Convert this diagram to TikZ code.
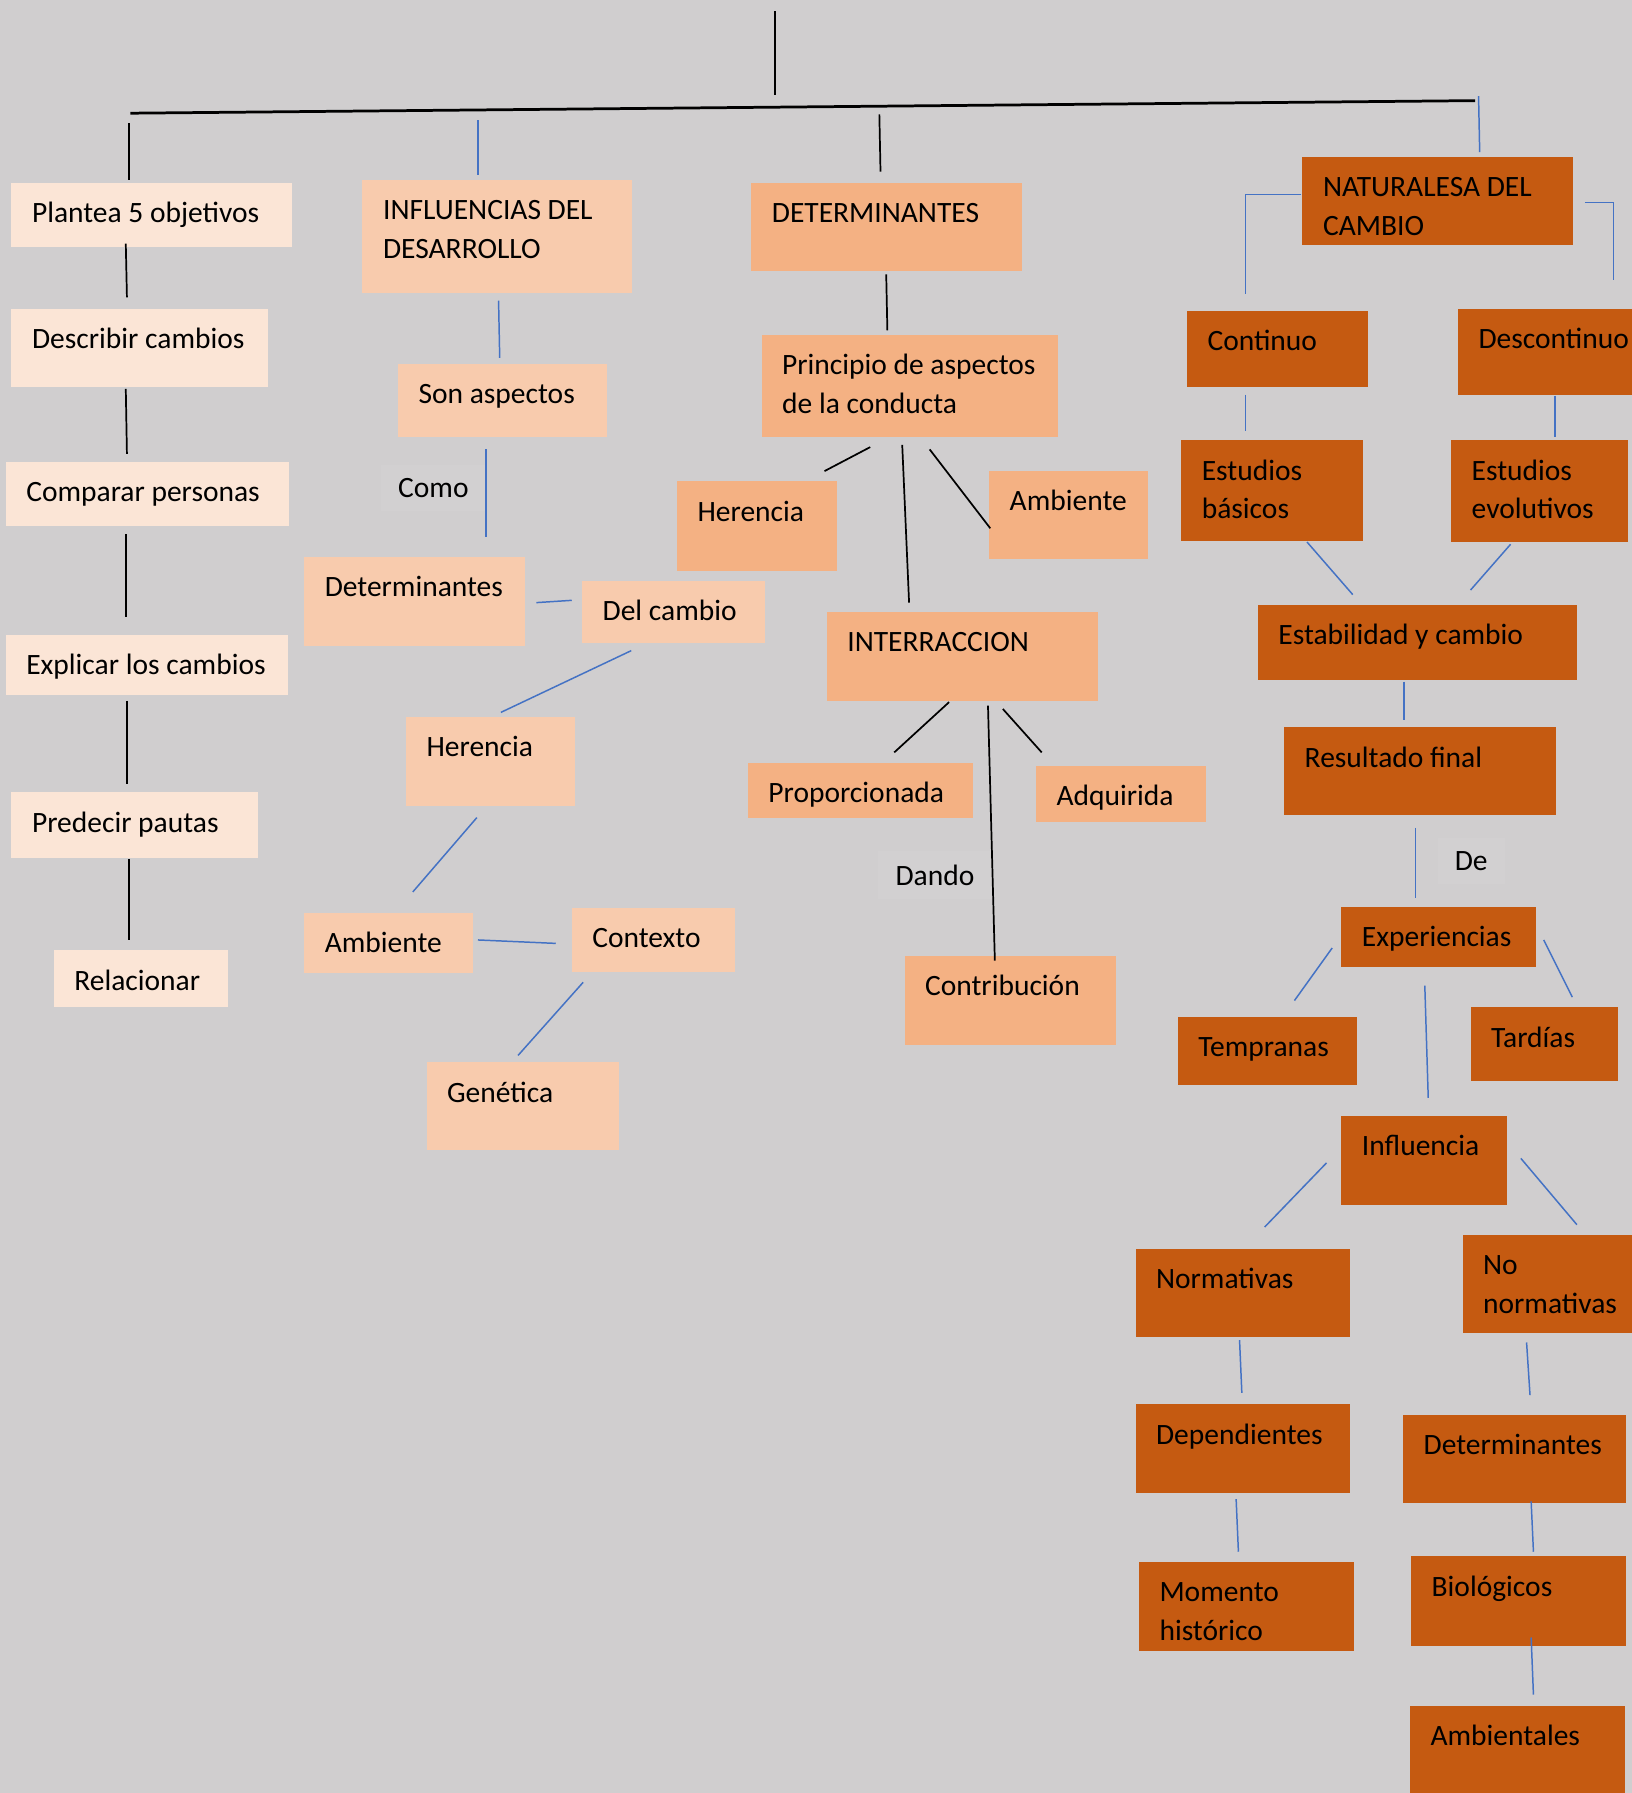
\documentclass[tikz,border=0pt]{standalone}
\usepackage{fontspec}
\setmainfont{Carlito}
\definecolor{fondo}{HTML}{D0CECF}
\definecolor{velo}{HTML}{D2D0D1}
\definecolor{claro}{HTML}{FBE5D6}
\definecolor{durazno}{HTML}{F8CBAD}
\definecolor{salmon}{HTML}{F4B183}
\definecolor{oxido}{HTML}{C55A11}
\definecolor{azul}{HTML}{4472C4}
% texto arriba a la izquierda dentro de cada caja (ancho, alto, texto)
\newcommand{\caja}[3]{\parbox[t][#2pt][t]{#1pt}{\raggedright\leftskip=18pt\relax\vspace*{11pt}\strut #3}}
\tikzset{
    caja/.style ={anchor=north west, inner sep=0pt, outer sep=0pt, font=\fontsize{25.8}{34}\selectfont},
    nivel1/.style ={caja, fill=claro},
    nivel2/.style ={caja, fill=durazno},
    nivel3/.style ={caja, fill=salmon},
    nivel4/.style ={caja, fill=oxido},
    etiqueta/.style ={anchor=base west, fill=velo, inner xsep=15pt, inner ysep=12pt, font=\fontsize{25.8}{34}\selectfont},
    negra/.style ={draw=black, line width=1.5pt},
    azulada/.style ={draw=azul, line width=1.3pt}
}

\begin{document}
\begin{tikzpicture}[x=1pt, y=-1pt]
    \useasboundingbox (0,0) rectangle (1427,1568);
    \fill[fondo] (0,0) rectangle (1427,1568);

    \coordinate (cima) at (678,10);
    \coordinate (cimaB) at (678,83);
    \coordinate (barraI) at (114,99);
    \coordinate (barraD) at (1290,88);
    \coordinate (b1) at (113,108);
    \coordinate (b2) at (418,105);
    \coordinate (b3) at (769,100);
    \coordinate (b4) at (1293,84);

    % columna 1
    \node[nivel1] (plantea) at (10,160) {\caja{245}{56}{Plantea 5 objetivos}};
    \node[nivel1] (describir) at (10,270) {\caja{224}{68}{Describir cambios}};
    \node[nivel1] (comparar) at (5,404) {\caja{248}{56}{Comparar personas}};
    \node[nivel1] (explicar) at (5,555) {\caja{247}{53}{Explicar los cambios}};
    \node[nivel1] (predecir) at (10,693) {\caja{216}{57}{Predecir pautas}};
    \node[nivel1] (relacionar) at (47,831) {\caja{152}{50}{Relacionar}};

    % columna 2
    \node[nivel2] (influencias) at (317,157) {\caja{236}{99}{INFLUENCIAS DEL\\DESARROLLO}};
    \node[nivel2] (aspectos) at (348,318) {\caja{183}{64}{Son aspectos}};
    \node[etiqueta] (como) at (333,435) {Como};
    \node[nivel2] (detCambio) at (266,487) {\caja{193}{78}{Determinantes}};
    \node[nivel2] (delcambio) at (509,508) {\caja{160}{54}{Del cambio}};
    \node[nivel2] (herencia) at (355,627) {\caja{148}{78}{Herencia}};
    \node[nivel2] (ambiente) at (266,798) {\caja{148}{53}{Ambiente}};
    \node[nivel2] (contexto) at (500,794) {\caja{143}{56}{Contexto}};
    \node[nivel2] (genetica) at (373,929) {\caja{168}{77}{Genética}};

    % columna 3
    \node[nivel3] (det) at (657,160) {\caja{237}{77}{DETERMINANTES}};
    \node[nivel3] (principio) at (666,293) {\caja{259}{89}{Principio de aspectos\\de la conducta}};
    \node[nivel3] (herenciaP) at (592,421) {\caja{140}{78}{Herencia}};
    \node[nivel3] (ambienteP) at (865,412) {\caja{139}{77}{Ambiente}};
    \node[nivel3] (interaccion) at (723,535) {\caja{237}{78}{INTERRACCION}};
    \node[nivel3] (proporcionada) at (654,667) {\caja{197}{48}{Proporcionada}};
    \node[nivel3] (adquirida) at (906,670) {\caja{149}{49}{Adquirida}};
    \node[etiqueta] (dando) at (768,774) {Dando};
    \node[nivel3] (contribucion) at (791,836) {\caja{185}{78}{Contribución}};

    % columna 4
    \node[nivel4] (naturaleza) at (1139,137) {\caja{237}{77}{NATURALESA DEL\\CAMBIO}};
    \node[nivel4] (continuo) at (1038,272) {\caja{158}{66}{Continuo}};
    \node[nivel4] (descontinuo) at (1275,270) {\caja{170}{75}{Descontinuo}};
    \node[nivel4] (basicos) at (1033,385) {\caja{159}{88}{Estudios\\básicos}};
    \node[nivel4] (evolutivos) at (1269,385) {\caja{155}{89}{Estudios\\evolutivos}};
    \node[nivel4] (estabilidad) at (1100,529) {\caja{279}{66}{Estabilidad y cambio}};
    \node[nivel4] (resultado) at (1123,636) {\caja{238}{77}{Resultado final}};
    \node[etiqueta] (de) at (1257,761) {De};
    \node[nivel4] (experiencias) at (1173,793) {\caja{170}{53}{Experiencias}};
    \node[nivel4] (tempranas) at (1030,889) {\caja{157}{60}{Tempranas}};
    \node[nivel4] (tardias) at (1286,881) {\caja{129}{64}{Tardías}};
    \node[nivel4] (influencia) at (1173,976) {\caja{145}{78}{Influencia}};
    \node[nivel4] (normativas) at (993,1092) {\caja{188}{77}{Normativas}};
    \node[nivel4] (noNormativas) at (1279,1080) {\caja{150}{86}{No\\normativas}};
    \node[nivel4] (dependientes) at (993,1228) {\caja{188}{78}{Dependientes}};
    \node[nivel4] (detNo) at (1227,1237) {\caja{195}{77}{Determinantes}};
    \node[nivel4] (momento) at (996,1366) {\caja{188}{78}{Momento\\histórico}};
    \node[nivel4] (biologicos) at (1234,1361) {\caja{188}{78}{Biológicos}};
    \node[nivel4] (ambientales) at (1233,1492) {\caja{188}{90}{Ambientales}};

    % tronco
    \draw[negra] (cima) -- (cimaB);
    \draw[negra, line width=2.4pt] (barraI) -- (barraD);

    \draw[negra] (b1) -- ([xshift=-19.5pt,yshift=3pt]plantea.north);
    \draw[negra] ([xshift=-22.5pt,yshift=3pt]plantea.south) -- ([xshift=-11pt,yshift=10pt]describir.north);
    \draw[negra] ([xshift=-12pt,yshift=-2pt]describir.south) -- ([xshift=-18pt,yshift=7pt]comparar.north);
    \draw[negra] ([xshift=-19pt,yshift=-7pt]comparar.south) -- ([xshift=-18.5pt,yshift=15pt]explicar.north);
    \draw[negra] ([xshift=-17.5pt,yshift=-5pt]explicar.south) -- ([xshift=-7pt,yshift=7pt]predecir.north);
    \draw[negra] ([xshift=-5pt,yshift=-1pt]predecir.south) -- ([xshift=-10pt,yshift=9pt]relacionar.north);

    \draw[azulada] (b2) -- ([xshift=-17pt,yshift=4pt]influencias.north);
    \draw[azulada] ([xshift=1pt,yshift=-7pt]influencias.south) -- ([xshift=-2.5pt,yshift=5pt]aspectos.north);
    \draw[azulada] ([xshift=-14.5pt,yshift=-11pt]aspectos.south) -- ([xshift=62.5pt,yshift=17pt]detCambio.north);
    \draw[azulada] ([xshift=10pt,yshift=-1pt]detCambio.east) -- ([xshift=-9pt,yshift=10pt]delcambio.west);
    \draw[azulada] ([xshift=-37pt,yshift=-7pt]delcambio.south) -- ([xshift=9pt,yshift=4pt]herencia.north);
    \draw[azulada] ([xshift=-12pt,yshift=-10pt]herencia.south) -- ([xshift=21pt,yshift=18pt]ambiente.north);
    \draw[azulada] ([xshift=4pt,yshift=2.5pt]ambiente.east) -- ([xshift=-14pt,yshift=-3pt]contexto.west);
    \draw[azulada] ([xshift=-61.5pt,yshift=-9pt]contexto.south) -- ([xshift=-4pt,yshift=6pt]genetica.north);

    \draw[negra] (b3) -- ([xshift=-5.5pt,yshift=10pt]det.north);
    \draw[negra] ([xshift=-0.5pt,yshift=-3pt]det.south) -- ([xshift=-19.5pt,yshift=4pt]principio.north);
    \draw[negra] ([xshift=-34.5pt,yshift=-9pt]principio.south) -- ([xshift=59pt,yshift=9pt]herenciaP.north);
    \draw[negra] ([xshift=17.5pt,yshift=-11pt]principio.south) -- ([xshift=1pt,yshift=-11.5pt]ambienteP.west);
    \draw[negra] ([xshift=-6.5pt,yshift=-7pt]principio.south) -- ([xshift=-46.5pt,yshift=8pt]interaccion.north);
    \draw[negra] ([xshift=-11.5pt,yshift=-1pt]interaccion.south) -- ([xshift=29.5pt,yshift=9pt]proporcionada.north);
    \draw[negra] ([xshift=35.5pt,yshift=-7pt]interaccion.south) -- ([xshift=-69.5pt,yshift=12pt]adquirida.north);
    \draw[negra] ([xshift=22.5pt,yshift=-4pt]interaccion.south) -- ([xshift=-13.5pt,yshift=-4pt]contribucion.north);

    \draw[azulada] (b4) -- ([xshift=36.5pt,yshift=4pt]naturaleza.north);
    \draw[azulada] ([xshift=-1pt,yshift=5.5pt]naturaleza.west) -| ([xshift=-28pt,yshift=15pt]continuo.north);
    \draw[azulada] ([xshift=10pt,yshift=-1.5pt]naturaleza.east) -| ([xshift=51pt,yshift=25pt]descontinuo.north);
    \draw[azulada] ([xshift=-28pt,yshift=-7pt]continuo.south) -- ([xshift=-23.5pt,yshift=8pt]basicos.north);
    \draw[azulada] ([yshift=-1pt]descontinuo.south) -- ([xshift=13.5pt,yshift=3pt]evolutivos.north);
    \draw[azulada] ([xshift=30.5pt,yshift=-1pt]basicos.south) -- ([xshift=-56.5pt,yshift=9pt]estabilidad.north);
    \draw[azulada] ([xshift=-25.5pt,yshift=-2pt]evolutivos.south) -- ([xshift=46.5pt,yshift=13pt]estabilidad.north);
    \draw[azulada] ([xshift=-11.5pt,yshift=-1pt]estabilidad.south) -- ([xshift=-14pt,yshift=6pt]resultado.north);
    \draw[azulada] ([xshift=-4pt,yshift=-11pt]resultado.south) -- ([xshift=-20pt,yshift=8pt]experiencias.north);
    \draw[azulada] ([xshift=-8pt,yshift=-9.5pt]experiencias.west) -- ([xshift=23.5pt,yshift=14pt]tempranas.north);
    \draw[azulada] ([xshift=7pt,yshift=-2.5pt]experiencias.east) -- ([xshift=24.5pt,yshift=9pt]tardias.north);
    \draw[azulada] ([xshift=-12pt,yshift=-16pt]experiencias.south) -- ([xshift=3.5pt,yshift=16pt]influencia.north);
    \draw[azulada] ([xshift=-13pt,yshift=-2pt]influencia.west) -- ([xshift=19pt,yshift=19pt]normativas.north);
    \draw[azulada] ([xshift=12pt,yshift=2pt]influencia.east) -- ([xshift=25pt,yshift=9pt]noNormativas.north);
    \draw[azulada] ([xshift=-3pt,yshift=-3pt]normativas.south) -- ([xshift=-1pt,yshift=10pt]dependientes.north);
    \draw[azulada] ([xshift=-19pt,yshift=-8pt]noNormativas.south) -- ([xshift=13.5pt,yshift=17pt]detNo.north);
    \draw[azulada] ([xshift=-6pt,yshift=-5pt]dependientes.south) -- ([xshift=-7pt,yshift=9pt]momento.north);
    \draw[azulada] ([xshift=14.5pt,yshift=1pt]detNo.south) -- ([xshift=13pt,yshift=4pt]biologicos.north);
    \draw[azulada] ([xshift=11pt,yshift=7pt]biologicos.south) -- ([xshift=14pt,yshift=10pt]ambientales.north);
\end{tikzpicture}
\end{document}
